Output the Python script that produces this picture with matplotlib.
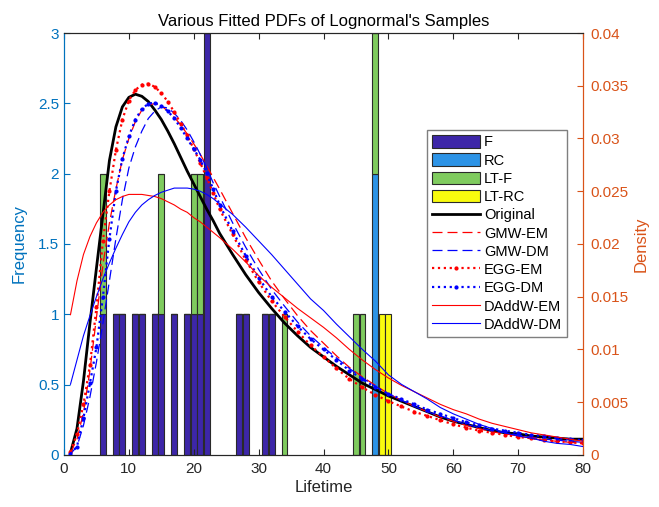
import matplotlib
matplotlib.use("Agg")
import matplotlib.pyplot as plt
from matplotlib.patches import Patch
from matplotlib.ticker import FixedLocator, FuncFormatter

plt.rcParams['font.family'] = ['Liberation Sans', 'DejaVu Sans']

# histogram of samples (stacked)
lifetimes = [6, 8, 9, 11, 12, 14, 15, 17, 19, 20, 21, 22, 27, 28, 31, 32, 34, 45, 46, 48, 49, 50]
freq_f    = [1, 1, 1, 1, 1, 1, 1, 1, 1, 1, 1, 3, 1, 1, 1, 1, 0, 0, 0, 0, 0, 0]
freq_rc   = [0, 0, 0, 0, 0, 0, 0, 0, 0, 0, 0, 0, 0, 0, 0, 0, 0, 0, 0, 2, 0, 0]
freq_ltf  = [1, 0, 0, 0, 0, 0, 1, 0, 0, 1, 1, 0, 0, 0, 0, 0, 1, 1, 1, 1, 0, 0]
freq_ltrc = [0, 0, 0, 0, 0, 0, 0, 0, 0, 0, 0, 0, 0, 0, 0, 0, 0, 0, 0, 0, 1, 1]

# fitted densities
x_pdf = [1, 2, 3, 4, 5, 6, 7, 8, 9, 10, 11, 12, 13, 14, 15, 16, 17, 18, 19, 20, 21, 22, 23, 24,
         26, 28, 30, 32, 34, 36, 38, 40, 42, 44, 46, 48, 50, 52, 54, 56, 58, 60, 62, 64, 66, 68,
         70, 72, 74, 76, 78, 80]
pdf_original = [0.0002, 0.0025, 0.0070, 0.0125, 0.0177, 0.0228, 0.0279, 0.0311, 0.0330, 0.0339,
                0.0342, 0.0340, 0.0335, 0.0327, 0.0318, 0.0307, 0.0295, 0.0282, 0.0269, 0.0257,
                0.0245, 0.0233, 0.0222, 0.0210, 0.0190, 0.0171, 0.0154, 0.0139, 0.0125, 0.0113,
                0.0102, 0.0093, 0.0084, 0.0076, 0.0068, 0.0062, 0.0056, 0.0051, 0.0046, 0.0041,
                0.0036, 0.0032, 0.0029, 0.0026, 0.0023, 0.0021, 0.0020, 0.0018, 0.0017, 0.0016,
                0.0015, 0.0015]
pdf_gmw_em = [0.0002, 0.0015, 0.0040, 0.0080, 0.0130, 0.0180, 0.0220, 0.0252, 0.0280, 0.0300,
              0.0316, 0.0327, 0.0332, 0.0333, 0.0331, 0.0326, 0.0320, 0.0313, 0.0304, 0.0295,
              0.0285, 0.0274, 0.0263, 0.0252, 0.0229, 0.0206, 0.0185, 0.0165, 0.0148, 0.0132,
              0.0118, 0.0106, 0.0094, 0.0083, 0.0074, 0.0066, 0.0058, 0.0052, 0.0046, 0.0041,
              0.0036, 0.0032, 0.0028, 0.0025, 0.0022, 0.0020, 0.0018, 0.0016, 0.0014, 0.0013,
              0.0012, 0.0011]
pdf_gmw_dm = [0.0001, 0.0008, 0.0028, 0.0055, 0.0088, 0.0125, 0.0165, 0.0205, 0.0242, 0.0272,
              0.0292, 0.0307, 0.0319, 0.0326, 0.0330, 0.0329, 0.0324, 0.0317, 0.0308, 0.0297,
              0.0285, 0.0272, 0.0258, 0.0245, 0.0220, 0.0197, 0.0176, 0.0157, 0.0141, 0.0126,
              0.0113, 0.0102, 0.0092, 0.0082, 0.0073, 0.0065, 0.0058, 0.0052, 0.0046, 0.0041,
              0.0037, 0.0033, 0.0029, 0.0026, 0.0023, 0.0021, 0.0019, 0.0017, 0.0015, 0.0014,
              0.0013, 0.0012]
pdf_egg_em = [0.0003, 0.0020, 0.0048, 0.0085, 0.0140, 0.0203, 0.0250, 0.0289, 0.0318, 0.0336,
              0.0346, 0.0351, 0.0352, 0.0349, 0.0343, 0.0335, 0.0325, 0.0314, 0.0303, 0.0290,
              0.0277, 0.0263, 0.0248, 0.0233, 0.0209, 0.0185, 0.0164, 0.0146, 0.0131, 0.0117,
              0.0104, 0.0093, 0.0082, 0.0072, 0.0064, 0.0057, 0.0051, 0.0046, 0.0041, 0.0037,
              0.0033, 0.0029, 0.0026, 0.0023, 0.0021, 0.0019, 0.0017, 0.0016, 0.0014, 0.0013,
              0.0012, 0.0011]
pdf_egg_dm = [0.0001, 0.0008, 0.0035, 0.0068, 0.0102, 0.0150, 0.0205, 0.0250, 0.0281, 0.0302,
              0.0318, 0.0328, 0.0333, 0.0334, 0.0331, 0.0326, 0.0319, 0.0310, 0.0300, 0.0290,
              0.0280, 0.0267, 0.0252, 0.0237, 0.0212, 0.0189, 0.0168, 0.0150, 0.0136, 0.0122,
              0.0110, 0.0100, 0.0090, 0.0080, 0.0072, 0.0064, 0.0058, 0.0053, 0.0048, 0.0043,
              0.0039, 0.0035, 0.0031, 0.0028, 0.0025, 0.0023, 0.0021, 0.0019, 0.0018, 0.0016,
              0.0015, 0.0014]
pdf_daddw_em = [0.0133, 0.0165, 0.0190, 0.0207, 0.0220, 0.0230, 0.0237, 0.0242, 0.0245, 0.0247,
                0.0247, 0.0247, 0.0246, 0.0245, 0.0243, 0.0240, 0.0237, 0.0233, 0.0230, 0.0225,
                0.0221, 0.0216, 0.0211, 0.0206, 0.0195, 0.0183, 0.0170, 0.0159, 0.0149, 0.0139,
                0.0130, 0.0121, 0.0111, 0.0100, 0.0090, 0.0081, 0.0073, 0.0066, 0.0060, 0.0054,
                0.0048, 0.0043, 0.0039, 0.0034, 0.0030, 0.0027, 0.0024, 0.0021, 0.0019, 0.0017,
                0.0015, 0.0013]
pdf_daddw_dm = [0.0067, 0.0090, 0.0113, 0.0132, 0.0150, 0.0167, 0.0182, 0.0196, 0.0209, 0.0221,
                0.0230, 0.0237, 0.0242, 0.0246, 0.0249, 0.0251, 0.0253, 0.0253, 0.0253, 0.0252,
                0.0250, 0.0247, 0.0243, 0.0238, 0.0228, 0.0216, 0.0203, 0.0190, 0.0176, 0.0162,
                0.0148, 0.0137, 0.0124, 0.0112, 0.0100, 0.0089, 0.0076, 0.0067, 0.0060, 0.0053,
                0.0045, 0.0039, 0.0034, 0.0029, 0.0025, 0.0021, 0.0018, 0.0016, 0.0013, 0.0011,
                0.0010, 0.0008]

left_ticks = [0, 0.5, 1, 1.5, 2, 2.5, 3]
right_ticks = [0, 0.005, 0.01, 0.015, 0.02, 0.025, 0.03, 0.035, 0.04]
x_ticks = [0, 10, 20, 30, 40, 50, 60, 70, 80]

c_left = '#0072BD'
c_right = '#D95319'
bar_colors = ['#3D26A8', '#2C93E6', '#7FCB5E', '#F9FB0E']

fig = plt.figure(figsize=(6.59, 5.07), dpi=100)
ax1 = fig.add_axes([0.0971, 0.1026, 0.7876, 0.8323])

# stacked bars
bottom = [0] * len(lifetimes)
bar_handles = []
for vals, col, name in zip([freq_f, freq_rc, freq_ltf, freq_ltrc], bar_colors, ['F', 'RC', 'LT-F', 'LT-RC']):
    ax1.bar(lifetimes, vals, width=0.9, bottom=bottom, color=col, edgecolor='#2a2a2a', linewidth=0.8)
    bottom = [b + v for b, v in zip(bottom, vals)]
    bar_handles.append(Patch(facecolor=col, edgecolor='#2a2a2a', linewidth=0.8, label=name))

ax1.set_xlim(0, 80)
ax1.set_ylim(0, 3)
ax1.set_xticks(x_ticks)
ax1.yaxis.set_major_locator(FixedLocator(left_ticks))
ax1.yaxis.set_major_formatter(FuncFormatter(lambda v, p: '%g' % v))
ax1.tick_params(axis='both', direction='in', length=4, labelsize=11)
ax1.tick_params(axis='x', top=True, colors='#262626', pad=5)
ax1.tick_params(axis='y', colors=c_left)
ax1.set_ylabel('Frequency', color=c_left, fontsize=12, labelpad=8)
ax1.set_xlabel('Lifetime', fontsize=12, color='#262626', labelpad=3)
ax1.set_title("Various Fitted PDFs of Lognormal's Samples", fontsize=12, pad=5)

ax2 = ax1.twinx()
ax2.plot(x_pdf, pdf_original, color='black', lw=2, label='Original')
ax2.plot(x_pdf, pdf_gmw_em, color='red', lw=0.9, ls=(0, (8, 4)), label='GMW-EM')
ax2.plot(x_pdf, pdf_gmw_dm, color='blue', lw=0.9, ls=(0, (8, 4)), label='GMW-DM')
ax2.plot(x_pdf, pdf_egg_em, color='red', lw=1.6, ls=':', marker='.', markersize=4, label='EGG-EM')
ax2.plot(x_pdf, pdf_egg_dm, color='blue', lw=1.6, ls=':', marker='.', markersize=4, label='EGG-DM')
ax2.plot(x_pdf, pdf_daddw_em, color='red', lw=0.8, label='DAddW-EM')
ax2.plot(x_pdf, pdf_daddw_dm, color='blue', lw=0.8, label='DAddW-DM')
ax2.set_ylim(0, 0.04)
ax2.yaxis.set_major_locator(FixedLocator(right_ticks))
ax2.yaxis.set_major_formatter(FuncFormatter(lambda v, p: '%g' % v))
ax2.tick_params(axis='y', direction='in', length=4, labelsize=11, colors=c_right, pad=5)
ax2.set_ylabel('Density', color=c_right, fontsize=12, labelpad=4)

for a in (ax1, ax2):
    a.spines['left'].set_color(c_left)
    a.spines['right'].set_color(c_right)
    a.spines['top'].set_color('#262626')
    a.spines['bottom'].set_color('#262626')

line_handles = ax2.get_lines()
leg = ax2.legend(handles=bar_handles + list(line_handles), loc='upper left',
                 bbox_to_anchor=(0.6995, 0.770), borderaxespad=0, fontsize=10.5,
                 handlelength=3.3, handleheight=0.95, labelspacing=0.27, handletextpad=0.25,
                 borderpad=0.35, fancybox=False, framealpha=1, numpoints=1)
leg.get_frame().set_edgecolor('#7F7F7F')
leg.get_frame().set_linewidth(1.0)

fig.savefig('out.png', dpi=100)
